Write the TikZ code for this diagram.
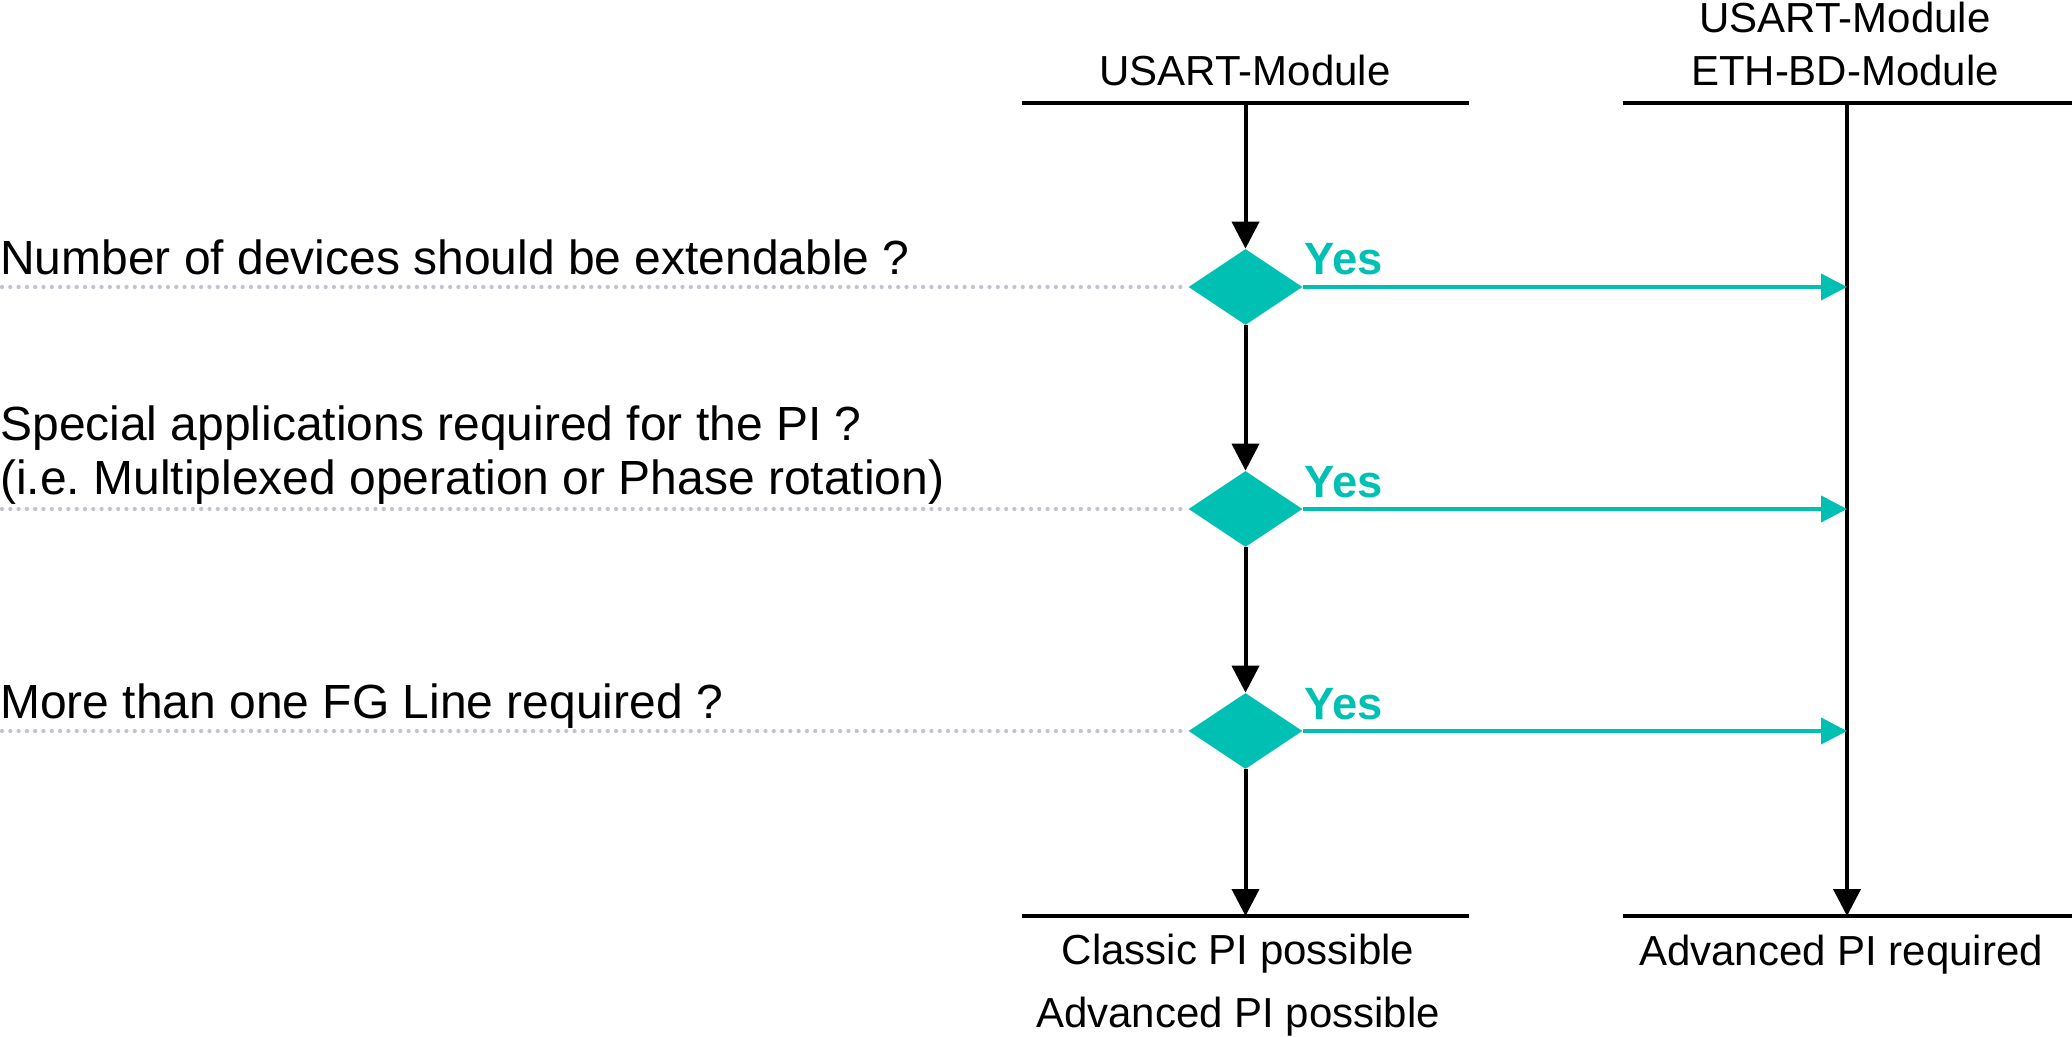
\documentclass[tikz,border=0pt]{standalone}
\usepackage{fontspec}
\setmainfont{Liberation Sans}
\usetikzlibrary{arrows.meta,shapes.geometric}
\definecolor{tealc}{RGB}{0,192,180}
\definecolor{dotgray}{RGB}{196,194,210}
\frenchspacing
\begin{document}
\begin{tikzpicture}[x=0.02cm,y=-0.02cm,
  lab/.style={font=\fontsize{23.9}{30.2}\selectfont, inner sep=0pt, align=center, anchor=base},
  question/.style={font=\fontsize{27.3}{30.2}\selectfont, inner sep=0pt, anchor=base west, align=left},
  yeslab/.style={font=\fontsize{25.8}{30}\selectfont\bfseries, text=tealc, inner sep=0pt, anchor=base west},
  dec/.style={shape=diamond, fill=tealc, inner sep=0pt, minimum width=2.28cm, minimum height=1.52cm},
  bar/.style={line width=0.08cm},
  flow/.style={line width=0.08cm, -{Triangle[length=0.54cm,width=0.54cm]}},
  yesflow/.style={draw=tealc, line width=0.08cm, -{Triangle[length=0.52cm,width=0.52cm]}},
  guide/.style={draw=dotgray, line width=0.085cm, line cap=round, dash pattern=on 0pt off 0.166cm}
]
\useasboundingbox (0,0) rectangle (2072,1037);

% bars
\coordinate (tl1) at (1022,103); \coordinate (tl2) at (1469,103);
\coordinate (tr1) at (1623,103); \coordinate (tr2) at (2074,103);
\coordinate (bl1) at (1022,916); \coordinate (bl2) at (1469,916);
\coordinate (br1) at (1623,916); \coordinate (br2) at (2074,916);
\coordinate (tlm) at (1245.5,103); \coordinate (blm) at (1245.5,916);
\coordinate (trm) at (1847,103); \coordinate (brm) at (1847,916);
\draw[bar] (tl1) -- (tl2);
\draw[bar] (tr1) -- (tr2);
\draw[bar] (bl1) -- (bl2);
\draw[bar] (br1) -- (br2);

% labels (base = baseline of last line)
\node[lab] (hl) at (1245,86) {USART-Module};
\node[lab] (hr) at (1845,86) {USART-Module\\ETH-BD-Module};
\node[lab, font=\fontsize{23.9}{35.3}\selectfont] (fl) at (1238,1027) {Classic PI possible\\Advanced PI possible};
\node[lab] (fr) at (1841,965) {Advanced PI required};

% decisions
\node[dec] (d1) at (1245.5,287) {};
\node[dec] (d2) at (1245.5,509) {};
\node[dec] (d3) at (1245.5,731) {};

% questions
\node[question] (q1) at (0,275) {Number of devices should be extendable ?};
\node[question] (q2) at (0,494) {Special applications required for the PI ?\\(i.e. Multiplexed operation or Phase rotation)};
\node[question] (q3) at (0,718) {More than one FG Line required ?};

\coordinate (g1) at (2,287); \coordinate (g2) at (2,509); \coordinate (g3) at (2,731);
\draw[guide] (g1) -- (d1.west);
\draw[guide] (g2) -- (d2.west);
\draw[guide] (g3) -- (d3.west);

% main flow
\draw[flow] (tlm) -- (d1.north);
\draw[flow] (d1.south) -- (d2.north);
\draw[flow] (d2.south) -- (d3.north);
\draw[flow] (d3.south) -- (blm);
\draw[flow] (trm) -- (brm);

% yes branches
\coordinate (r1) at (1847,287); \coordinate (r2) at (1847,509); \coordinate (r3) at (1847,731);
\draw[yesflow] (d1.east) -- (r1);
\draw[yesflow] (d2.east) -- (r2);
\draw[yesflow] (d3.east) -- (r3);
\node[yeslab] (y1) at (1304,275) {Yes};
\node[yeslab] (y2) at (1304,497) {Yes};
\node[yeslab] (y3) at (1304,719) {Yes};
\end{tikzpicture}
\end{document}
